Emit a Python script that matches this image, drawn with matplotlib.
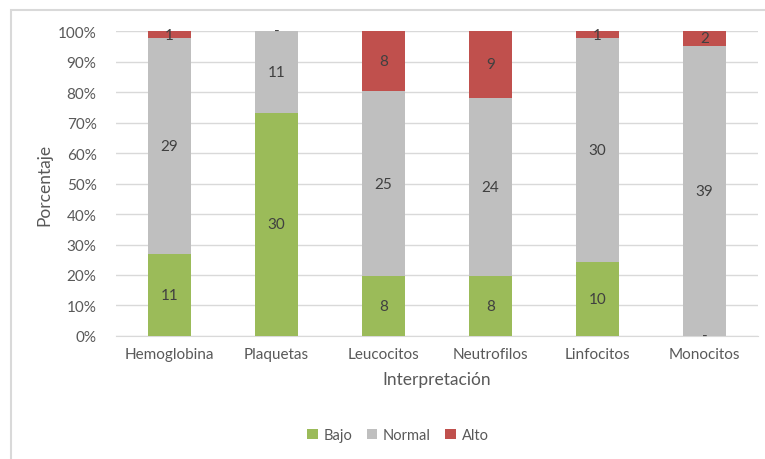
import matplotlib
matplotlib.use("Agg")
import matplotlib.pyplot as plt
import numpy as np
from matplotlib.patches import Rectangle

categories = ["Hemoglobina", "Plaquetas", "Leucocitos", "Neutrofilos", "Linfocitos", "Monocitos"]
bajo = [11, 30, 8, 8, 10, 0]
normal = [29, 11, 25, 24, 30, 39]
alto = [1, 0, 8, 9, 1, 2]
yticks = [0, 10, 20, 30, 40, 50, 60, 70, 80, 90, 100]

series = [("Bajo", bajo, "#9BBB59"), ("Normal", normal, "#BFBFBF"), ("Alto", alto, "#C0504D")]

plt.rcParams["font.family"] = ["Lato", "DejaVu Sans"]

fig = plt.figure(figsize=(7.65, 4.6), dpi=100)
ax = fig.add_axes([0.1516, 0.2674, 0.8394, 0.663])

# Chart frame
fig.patches.append(Rectangle((11 / 765, -0.1), 2.0, 1 - 11 / 460 + 0.1,
                             transform=fig.transFigure, fill=False,
                             edgecolor="#D9D9D9", linewidth=1.5, zorder=0))

x = np.arange(len(categories))
totals = np.array(bajo) + np.array(normal) + np.array(alto)
bottom = np.zeros(len(categories))
for name, vals, color in series:
    vals = np.array(vals, dtype=float)
    pct = vals / totals * 100
    ax.bar(x, pct, width=0.4, bottom=bottom, color=color, label=name, zorder=3)
    for i, (v, p, b) in enumerate(zip(vals, pct, bottom)):
        txt = "-" if v == 0 else f"{int(v)}"
        ax.text(x[i], b + p / 2, txt, ha="center", va="center",
                fontsize=11, color="#404040", zorder=4)
    bottom += pct

ax.set_xlim(-0.5, len(categories) - 0.5)
ax.set_ylim(0, 100)
ax.set_yticks(yticks)
ax.set_yticklabels([f"{t}%" for t in yticks])
ax.set_xticks(x)
ax.set_xticklabels(categories)
ax.tick_params(axis="both", length=0, labelsize=11, labelcolor="#595959")
ax.tick_params(axis="y", pad=14)
ax.tick_params(axis="x", pad=8)
ax.yaxis.grid(True, color="#D9D9D9", linewidth=1, zorder=0)
ax.set_axisbelow(True)
for s in ["top", "right", "left"]:
    ax.spines[s].set_visible(False)
ax.spines["bottom"].set_color("#D9D9D9")

ax.set_xlabel("Interpretación", fontsize=12.5, color="#595959", labelpad=7)
ax.set_ylabel("Porcentaje", fontsize=12.5, color="#595959", labelpad=4)

leg = fig.legend(loc="center", bbox_to_anchor=(398 / 765, 1 - 436 / 460), ncol=3,
                 frameon=False, fontsize=10.5, handlelength=0.7, handleheight=0.7,
                 handletextpad=0.4, columnspacing=1.0)
for t in leg.get_texts():
    t.set_color("#595959")

fig.savefig("out.png", dpi=100)
